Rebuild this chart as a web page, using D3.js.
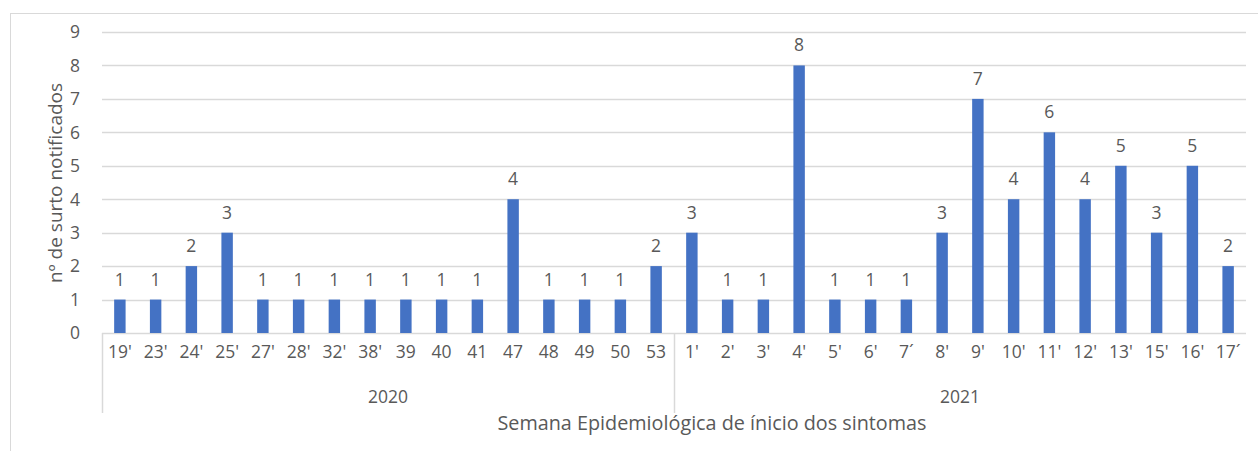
<!DOCTYPE html>
<html>
<head>
<meta charset="utf-8">
<script src="https://cdn.jsdelivr.net/npm/d3@7"></script>
<style>
  body { margin: 0; background: #fff; }
  text { font-family: "Open Sans", "Noto Sans", sans-serif; fill: #595959; }
</style>
</head>
<body>
<svg id="chart" width="1258" height="451"></svg>
<script>
const weeks2020 = ["19'", "23'", "24'", "25'", "27'", "28'", "32'", "38'", "39", "40", "41", "47", "48", "49", "50", "53"];
const values2020 = [1, 1, 2, 3, 1, 1, 1, 1, 1, 1, 1, 4, 1, 1, 1, 2];
const weeks2021 = ["1'", "2'", "3'", "4'", "5'", "6'", "7´", "8'", "9'", "10'", "11'", "12'", "13'", "15'", "16'", "17´"];
const values2021 = [3, 1, 1, 8, 1, 1, 1, 3, 7, 4, 6, 4, 5, 3, 5, 2];
const years = ["2020", "2021"];
const yTicks = [0, 1, 2, 3, 4, 5, 6, 7, 8, 9];

const data = [];
weeks2020.forEach((w, i) => data.push({ key: "2020-" + i, week: w, year: "2020", val: values2020[i] }));
weeks2021.forEach((w, i) => data.push({ key: "2021-" + i, week: w, year: "2021", val: values2021[i] }));

const svg = d3.select("#chart");
const plot = { left: 102, right: 1246, top: 32, bottom: 333 };
const fs = "17.5px";

// chart frame (top and left edges visible)
svg.append("line").attr("x1", 10).attr("x2", 1258).attr("y1", 13.5).attr("y2", 13.5).attr("stroke", "#d9d9d9");
svg.append("line").attr("x1", 10.5).attr("x2", 10.5).attr("y1", 13).attr("y2", 451).attr("stroke", "#d9d9d9");

const x = d3.scaleBand().domain(data.map(d => d.key)).range([plot.left, plot.right]).paddingInner(0.68).paddingOuter(0.34);
const y = d3.scaleLinear().domain([0, 9]).range([plot.bottom, plot.top]);

// gridlines
svg.append("g").selectAll("line").data(yTicks).join("line")
    .attr("x1", plot.left).attr("x2", plot.right)
    .attr("y1", d => Math.round(y(d)) + 0.5).attr("y2", d => Math.round(y(d)) + 0.5)
    .attr("stroke", "#d9d9d9").attr("stroke-width", 1.5);

// y tick labels
svg.append("g").selectAll("text").data(yTicks).join("text")
    .attr("x", 80).attr("y", d => y(d)).attr("dy", "0.36em")
    .attr("text-anchor", "end").style("font-size", fs)
    .text(d => d);

// bars
svg.append("g").selectAll("rect").data(data).join("rect")
    .attr("x", d => x(d.key)).attr("width", x.bandwidth())
    .attr("y", d => y(d.val)).attr("height", d => y(0) - y(d.val))
    .attr("fill", "#4472c4");

// data labels
svg.append("g").selectAll("text").data(data).join("text")
    .attr("x", d => x(d.key) + x.bandwidth() / 2).attr("y", d => y(d.val) - 14)
    .attr("text-anchor", "middle").style("font-size", fs)
    .text(d => d.val);

// category labels
const step = x.step();
svg.append("g").selectAll("text").data(data).join("text")
    .attr("x", d => x(d.key) + x.bandwidth() / 2).attr("y", 352).attr("dy", "0.36em")
    .attr("text-anchor", "middle").style("font-size", fs)
    .text(d => d.week);

// group separators
const seps = [plot.left, plot.left + weeks2020.length * step];
svg.append("g").selectAll("line").data(seps).join("line")
    .attr("x1", d => Math.round(d) + 0.5).attr("x2", d => Math.round(d) + 0.5)
    .attr("y1", plot.bottom).attr("y2", 413)
    .attr("stroke", "#d9d9d9").attr("stroke-width", 1.5);

// year labels
const counts = [weeks2020.length, weeks2021.length];
svg.append("g").selectAll("text").data(years).join("text")
    .attr("x", (d, i) => plot.left + (i === 0 ? counts[0] / 2 : counts[0] + counts[1] / 2) * step)
    .attr("y", 397).attr("dy", "0.36em")
    .attr("text-anchor", "middle").style("font-size", fs)
    .text(d => d);

// axis titles
svg.append("text").attr("x", 712).attr("y", 423).attr("dy", "0.36em")
    .attr("text-anchor", "middle").style("font-size", "19.8px")
    .text("Semana Epidemiológica de ínicio dos sintomas");

svg.append("text").attr("transform", "translate(55,183) rotate(-90)")
    .attr("dy", "0.36em").attr("text-anchor", "middle").style("font-size", "19px")
    .text("nº de surto notificados");
</script>
</body>
</html>
